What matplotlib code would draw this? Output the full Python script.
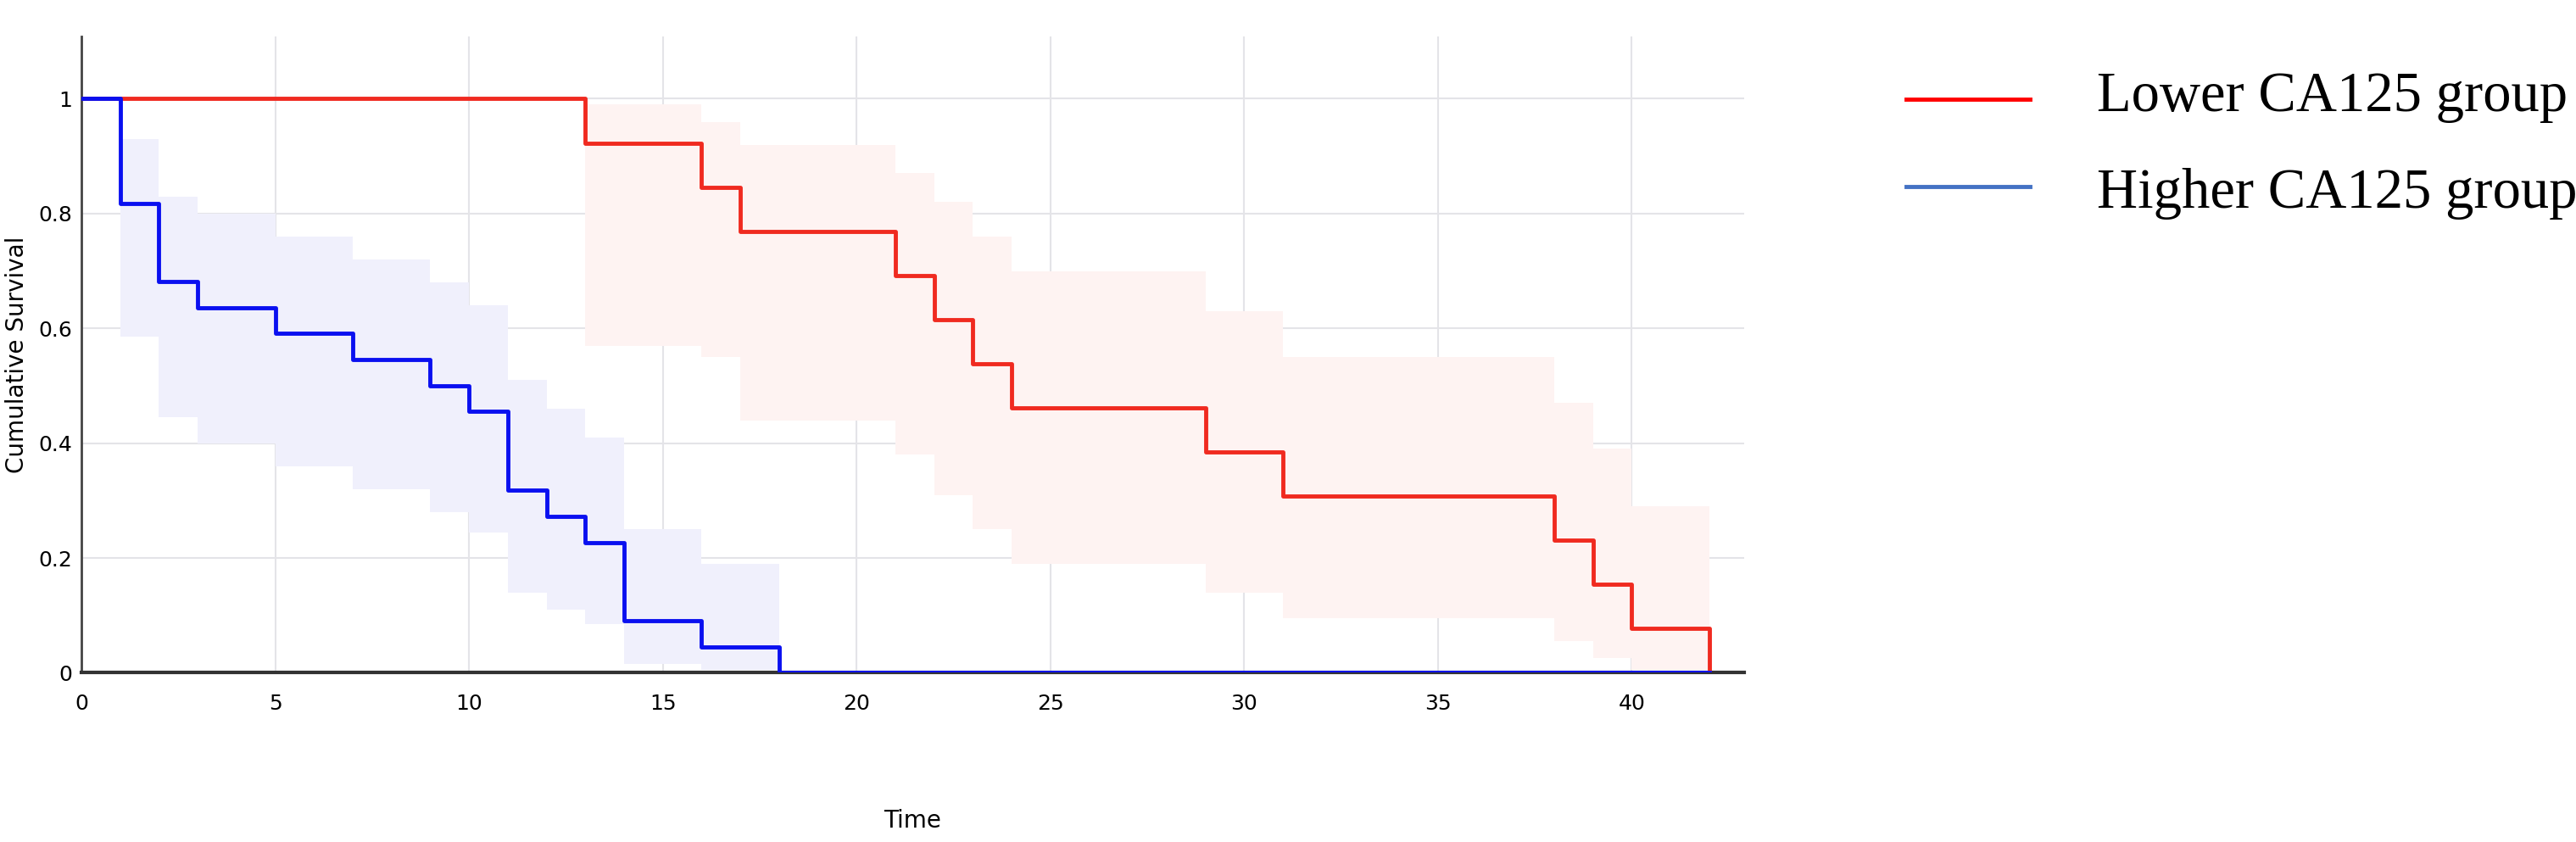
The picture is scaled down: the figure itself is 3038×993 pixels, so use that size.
import matplotlib
matplotlib.use("Agg")
import matplotlib.pyplot as plt
import numpy as np

blue_t = [0, 1, 2, 3, 5, 7, 9, 10, 11, 12, 13, 14, 16, 18, 42]
blue_s = [1, 0.818, 0.682, 0.636, 0.591, 0.545, 0.5, 0.455, 0.318, 0.273, 0.227, 0.091, 0.045, 0, 0]
blue_hi = [1, 0.93, 0.83, 0.80, 0.76, 0.72, 0.68, 0.64, 0.51, 0.46, 0.41, 0.25, 0.19, 0, 0]
blue_lo = [1, 0.585, 0.445, 0.40, 0.36, 0.32, 0.28, 0.245, 0.14, 0.11, 0.085, 0.015, 0.005, 0, 0]

red_t = [0, 13, 16, 17, 21, 22, 23, 24, 29, 31, 38, 39, 40, 42]
red_s = [1, 0.923, 0.846, 0.769, 0.692, 0.615, 0.538, 0.462, 0.385, 0.308, 0.231, 0.154, 0.077, 0]
red_hi = [1, 0.99, 0.96, 0.92, 0.87, 0.82, 0.76, 0.70, 0.63, 0.55, 0.47, 0.39, 0.29, 0]
red_lo = [1, 0.57, 0.55, 0.44, 0.38, 0.31, 0.25, 0.19, 0.14, 0.095, 0.055, 0.025, 0.005, 0]

labels = ["Lower CA125 group", "Higher CA125 group"]

fig = plt.figure(figsize=(30.38, 9.93), dpi=100)
ax = fig.add_axes([0.0316, 0.201, 0.6455, 0.756])

def band(t, lo, hi, color):
    ax.fill_between(t[1:-1] + [t[-1]], lo[1:-1] + [lo[-2]], hi[1:-1] + [hi[-2]],
                    step="post", color=color, lw=0, alpha=1)

band(blue_t, blue_lo, blue_hi, "#F0F0FC")
band(red_t, red_lo, red_hi, "#FEF3F2")
ax.step(red_t, red_s, where="post", color="#F02A20", lw=3.5, zorder=3)
ax.step(blue_t, blue_s, where="post", color="#0A10F0", lw=3.5, zorder=4)

ax.set_xlim(0, 42.9)
ax.set_ylim(0, 1.109)
ax.set_xticks([0, 5, 10, 15, 20, 25, 30, 35, 40])
ax.set_yticks([0, 0.2, 0.4, 0.6, 0.8, 1])
ax.set_yticklabels(["0", "0.2", "0.4", "0.6", "0.8", "1"])
ax.grid(True, color="#E4E4E8", lw=1.5)
ax.set_axisbelow(True)
for s in ["top", "right"]:
    ax.spines[s].set_visible(False)
ax.spines["left"].set_color("#444444"); ax.spines["left"].set_linewidth(2)
ax.spines["bottom"].set_color("#333333"); ax.spines["bottom"].set_linewidth(3)
ax.tick_params(axis="x", length=0, labelsize=18, pad=18)
ax.tick_params(axis="y", length=0, labelsize=18, pad=8)
ax.set_xlabel("Time", fontsize=20, labelpad=80)
ax.set_ylabel("Cumulative Survival", fontsize=20, labelpad=8)

# legend
lax = fig.add_axes([0.0, 0.0, 1.0, 1.0])
lax.axis("off")
lax.set_xlim(0, 1); lax.set_ylim(0, 1)
lax.plot([0.740, 0.788], [0.882, 0.882], color="#FF0000", lw=3.5)
lax.plot([0.740, 0.788], [0.778, 0.778], color="#4472C4", lw=3.5)
lax.text(0.814, 0.885, labels[0], fontsize=48, family="Liberation Serif", va="center")
lax.text(0.814, 0.770, labels[1], fontsize=48, family="Liberation Serif", va="center")

fig.savefig("out.png", dpi=100)
